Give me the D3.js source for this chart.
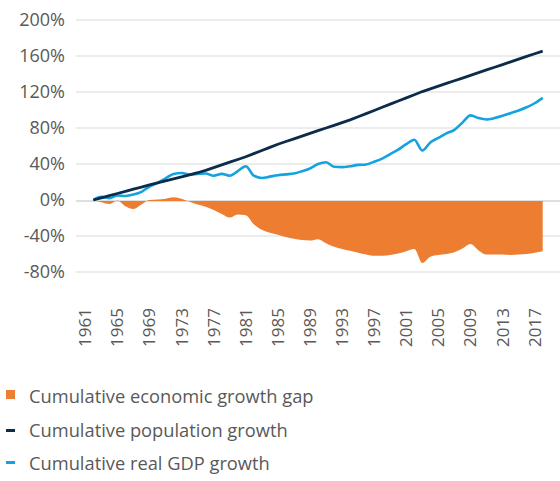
<!DOCTYPE html>
<html>
<head>
<meta charset="utf-8">
<script src="https://cdn.jsdelivr.net/npm/d3@7"></script>
<style>
  body { margin: 0; background: #fff; }
  text { font-family: "Open Sans", "Noto Sans", sans-serif; fill: #595959; }
</style>
</head>
<body>
<svg width="560" height="481"></svg>
<script>
// Years on the category axis, series start in 1962
const years = d3.range(1961, 2019);
const dataYears = d3.range(1962, 2019);
const tickYears = [1961, 1965, 1969, 1973, 1977, 1981, 1985, 1989, 1993, 1997, 2001, 2005, 2009, 2013, 2017];
const yTicks = [-80, -40, 0, 40, 80, 120, 160, 200];

// Cumulative population growth (%)
const population = [0, 2.4, 4.8, 7.2, 9.6, 12, 14.4, 16.8, 19, 21.3,
  23.5, 25.8, 28, 30.3, 33, 36, 39, 42, 45, 48,
  51.5, 55, 58.5, 62, 65, 68, 71, 74, 77, 80,
  83, 86, 89, 92.5, 96, 99.5, 103, 106.5, 110, 113.5,
  117, 120.5, 123.5, 126.5, 129.5, 132.5, 135.5, 138.5, 141.5, 144.5,
  147.5, 150.5, 153.5, 156.5, 159.5, 162.5, 165.5];

// Cumulative real GDP growth (%)
const gdp = [0, 3.5, 2, 5, 4.5, 6, 9, 15, 19, 24,
  29, 30, 28.5, 29, 29.5, 27, 29, 27, 32, 37.5,
  27, 24.5, 26, 27.5, 28.5, 29.5, 32, 35, 40, 42,
  37, 36.5, 37.5, 39, 39.5, 42.5, 46, 51, 56, 62,
  67, 55, 64, 69, 74, 78, 86, 94, 91, 89.5,
  91, 93.5, 96.5, 99.5, 103, 107.5, 113.5];

// Cumulative economic growth gap (%)
const gap = [0, -2.5, -4.5, -0.5, -7, -10, -5, 0, 0.5, 1.5,
  3, 1.5, -2, -5, -7.5, -11, -15.5, -19.5, -16, -17,
  -27, -33, -36.5, -38.5, -41, -43, -44.5, -45, -43.5, -48,
  -52, -54.5, -56.5, -58.5, -60.5, -62, -62, -61, -59.5, -57,
  -54.5, -70, -63, -61, -60, -58, -54, -49, -56, -60.5,
  -60.5, -60.5, -61, -60.5, -60, -58.5, -57];

const legendLabels = ["Cumulative economic growth gap", "Cumulative population growth", "Cumulative real GDP growth"];
const colors = { gap: "#ed7d31", pop: "#0b2c4a", gdp: "#14a2e1" };

const svg = d3.select("svg");

const x = d3.scalePoint().domain(years).range([85.3, 542.7]);
const y = d3.scaleLinear().domain([-80, 200]).range([272, 20]);

// Gridlines
svg.append("g").selectAll("line")
  .data(yTicks.filter(d => d !== 0))
  .join("line")
  .attr("x1", 76).attr("x2", 560)
  .attr("y1", d => y(d)).attr("y2", d => y(d))
  .attr("stroke", "#d9d9d9").attr("stroke-width", 1);

// Zero axis line
svg.append("line")
  .attr("x1", 76).attr("x2", 560)
  .attr("y1", y(0) + 1).attr("y2", y(0) + 1)
  .attr("stroke", "#bfbfbf").attr("stroke-width", 1.2);

// Y labels
svg.append("g").selectAll("text")
  .data(yTicks)
  .join("text")
  .attr("x", 65).attr("y", d => y(d))
  .attr("dy", "0.35em")
  .attr("text-anchor", "end")
  .style("font-size", "18px")
  .text(d => d + "%");

// X labels, rotated
svg.append("g").selectAll("text")
  .data(tickYears)
  .join("text")
  .attr("transform", d => `translate(${x(d)},308) rotate(-90)`)
  .attr("dy", "0.35em")
  .attr("text-anchor", "end")
  .style("font-size", "17px")
  .text(d => d);

const rows = dataYears.map((yr, i) => ({ year: yr, pop: population[i], gdp: gdp[i], gap: gap[i] }));

// Gap area
svg.append("path")
  .datum(rows)
  .attr("fill", colors.gap)
  .attr("d", d3.area()
    .x(d => x(d.year))
    .y0(y(0) + 1)
    .y1(d => y(d.gap))
    .curve(d3.curveMonotoneX));

// GDP line
svg.append("path")
  .datum(rows)
  .attr("fill", "none")
  .attr("stroke", colors.gdp)
  .attr("stroke-width", 2.6)
  .attr("d", d3.line().x(d => x(d.year)).y(d => y(d.gdp)).curve(d3.curveMonotoneX));

// Population line
svg.append("path")
  .datum(rows)
  .attr("fill", "none")
  .attr("stroke", colors.pop)
  .attr("stroke-width", 2.8)
  .attr("d", d3.line().x(d => x(d.year)).y(d => y(d.pop)));

// Legend
const legend = svg.append("g");
legend.append("rect").attr("x", 6).attr("y", 390).attr("width", 9).attr("height", 9).attr("fill", colors.gap);
legend.append("line").attr("x1", 6).attr("x2", 15).attr("y1", 430.5).attr("y2", 430.5)
  .attr("stroke", colors.pop).attr("stroke-width", 3);
legend.append("line").attr("x1", 6).attr("x2", 15).attr("y1", 462.5).attr("y2", 462.5)
  .attr("stroke", colors.gdp).attr("stroke-width", 3);
legend.selectAll("text.lg")
  .data(legendLabels)
  .join("text")
  .attr("class", "lg")
  .attr("x", 29)
  .attr("y", (d, i) => [403, 437, 470][i])
  .style("font-size", "18.3px")
  .text(d => d);
</script>
</body>
</html>
